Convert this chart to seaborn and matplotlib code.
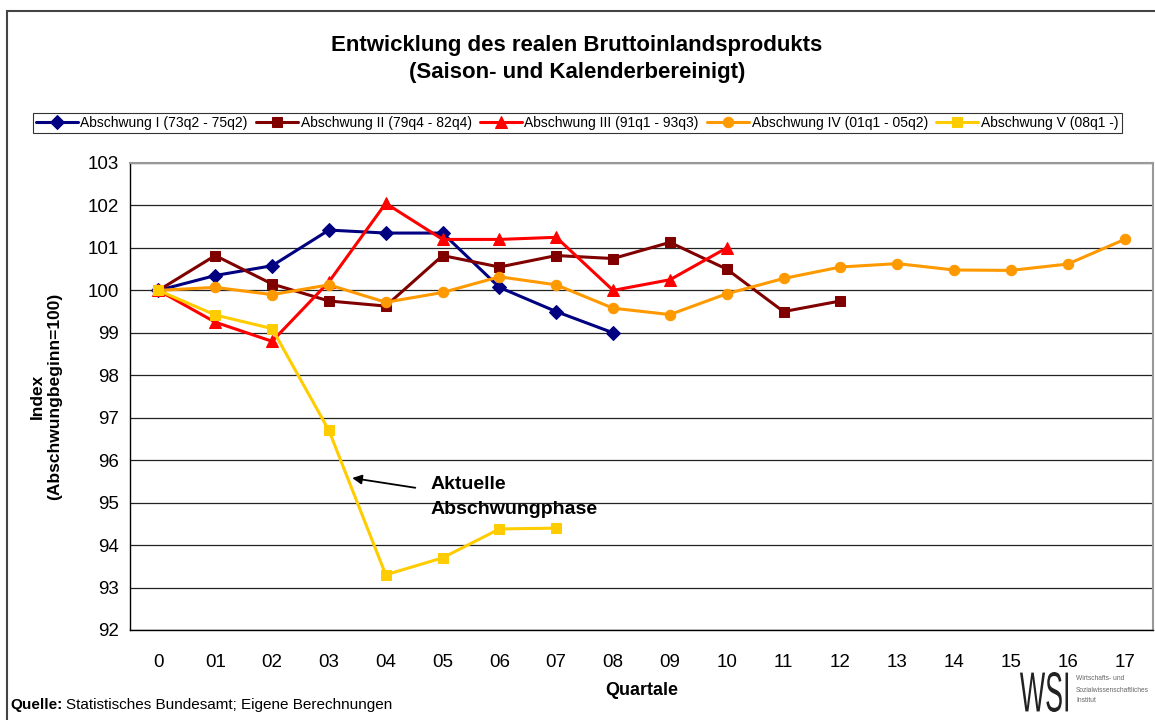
import pandas as pd
import numpy as np
import matplotlib
matplotlib.use("Agg")
import matplotlib.pyplot as plt
import seaborn as sns
from matplotlib.patches import Rectangle, PathPatch
from matplotlib.textpath import TextPath
from matplotlib.font_manager import FontProperties
from matplotlib.transforms import Affine2D, IdentityTransform, offset_copy

# Data
quartale = ["0", "01", "02", "03", "04", "05", "06", "07", "08", "09",
            "10", "11", "12", "13", "14", "15", "16", "17"]
abschwung_1 = [100, 100.35, 100.58, 101.42, 101.35, 101.35, 100.07, 99.5, 99.0]
abschwung_2 = [100, 100.82, 100.15, 99.75, 99.63, 100.82, 100.55, 100.82, 100.75,
               101.13, 100.5, 99.5, 99.75]
abschwung_3 = [100, 99.25, 98.8, 100.2, 102.05, 101.2, 101.2, 101.25, 100.0,
               100.25, 101.0]
abschwung_4 = [100, 100.07, 99.9, 100.13, 99.72, 99.95, 100.32, 100.13, 99.58,
               99.43, 99.92, 100.28, 100.55, 100.63, 100.48, 100.47, 100.62, 101.2]
abschwung_5 = [100, 99.42, 99.1, 96.7, 93.3, 93.7, 94.38, 94.4]

namen = ["Abschwung I (73q2 - 75q2)", "Abschwung II (79q4 - 82q4)",
         "Abschwung III (91q1 - 93q3)", "Abschwung IV (01q1 - 05q2)",
         "Abschwung V (08q1 -)"]
reihen = [abschwung_1, abschwung_2, abschwung_3, abschwung_4, abschwung_5]
farben = ["#000080", "#800000", "#FF0000", "#FF9900", "#FFCC00"]
marker = ["D", "s", "^", "o", "s"]
msize = [7.5, 7, 8, 7.5, 7]

sns.set_style("white")
plt.rcParams["font.family"] = ["Liberation Sans", "DejaVu Sans"]
for k in ["text.color", "axes.labelcolor", "xtick.color", "ytick.color"]:
    plt.rcParams[k] = "black"

fig = plt.figure(figsize=(11.55, 7.2), dpi=100)
ax = fig.add_axes([130 / 1155, 90 / 720, 1023 / 1155, 467 / 720])

for name, werte, c, m, ms in zip(namen, reihen, farben, marker, msize):
    df = pd.DataFrame({"x": np.arange(len(werte)), "y": werte})
    sns.lineplot(data=df, x="x", y="y", ax=ax, color=c, marker=m, markersize=ms,
                 markeredgecolor=c, linewidth=2.2, label=name)

ax.set_xlim(-0.5, 17.5)
ax.set_ylim(92, 103)
ax.set_yticks(range(92, 104))
ax.set_yticklabels([str(v) for v in range(92, 104)], fontsize=13.5)
ax.set_xticks(range(len(quartale)))
ax.set_xticklabels(quartale, fontsize=13.5)
ax.set_xticks(np.arange(-0.5, 18, 1), minor=True)
ax.tick_params(axis="x", which="major", length=0, pad=17)
ax.tick_params(axis="x", which="minor", length=5, width=1, color="black", direction="out")
ax.tick_params(axis="y", length=5, width=1, color="black", direction="out", pad=3)
ax.grid(axis="y", color="#222222", linewidth=0.9)
ax.grid(axis="x", visible=False)
ax.set_axisbelow(True)
for s in ["left", "bottom"]:
    ax.spines[s].set_color("black")
    ax.spines[s].set_linewidth(1)
for s in ["top", "right"]:
    ax.spines[s].set_color("#999999")
    ax.spines[s].set_linewidth(1.5)

ax.set_xlabel("Quartale", fontsize=13, fontweight="bold", labelpad=8)
ax.set_ylabel("Index\n(Abschwungbeginn=100)", fontsize=12.5, fontweight="bold", labelpad=18)

# arrow and text of the annotation
ax.annotate("", xy=(3.41, 95.58), xytext=(4.52, 95.35),
            arrowprops=dict(arrowstyle="-|>", color="black", lw=1.3,
                            shrinkA=0, shrinkB=0, mutation_scale=14),
            annotation_clip=False)
ax.text(4.78, 95.13, "Aktuelle\nAbschwungphase", fontsize=14, fontweight="bold",
        va="center", ha="left", linespacing=1.6)

fig.text(577 / 1155, 1 - 59 / 720,
         "Entwicklung des realen Bruttoinlandsprodukts\n(Saison- und Kalenderbereinigt)",
         ha="center", va="center", fontsize=16, fontweight="bold", linespacing=1.4)

leg = ax.legend(loc="center", bbox_to_anchor=(577 / 1155, 1 - 123 / 720),
                bbox_transform=fig.transFigure, ncol=5, fontsize=10,
                frameon=True, fancybox=False, handlelength=3.0, handletextpad=0.2,
                columnspacing=0.6, borderpad=0.25, borderaxespad=0)
leg.get_frame().set_edgecolor("black")
leg.get_frame().set_linewidth(0.8)

# source line: bold label, then the rest right after it
q = fig.text(10 / 1155, 1 - 705 / 720, "Quelle:", fontsize=11, fontweight="bold",
             va="center", ha="left")
fig.canvas.draw()
q_w = q.get_window_extent().width
fig.text(10 / 1155, 1 - 705 / 720, "Statistisches Bundesamt; Eigene Berechnungen",
         fontsize=11, va="center", ha="left",
         transform=offset_copy(fig.transFigure, fig=fig, x=q_w + 4, y=0, units="dots"))

# WSI logo, condensed letters drawn from a text path
tp = TextPath((0, 0), "WSI", size=1, prop=FontProperties(family="Liberation Sans"))
bb = tp.get_extents()
sx = 48 / bb.width
sy = 40 / bb.height
logo_tf = Affine2D().translate(-bb.x0, -bb.y0).scale(sx, sy).translate(1020, 720 - 712)
fig.patches.append(PathPatch(logo_tf.transform_path(tp), transform=IdentityTransform(),
                             facecolor="#222222", edgecolor="none"))
fig.text(1076 / 1155, 1 - 690 / 720, "Wirtschafts- und\nSozialwissenschaftliches\nInstitut",
         fontsize=4.8, va="center", ha="left", color="#666666", linespacing=1.8)

# outer frame of the chart
fig.patches.append(Rectangle((7 / 1155, -0.05), 1.1, 1 - 11 / 720 + 0.05,
                             transform=fig.transFigure, fill=False,
                             edgecolor="#444444", linewidth=1.5))

fig.savefig("out.png", dpi=100)
